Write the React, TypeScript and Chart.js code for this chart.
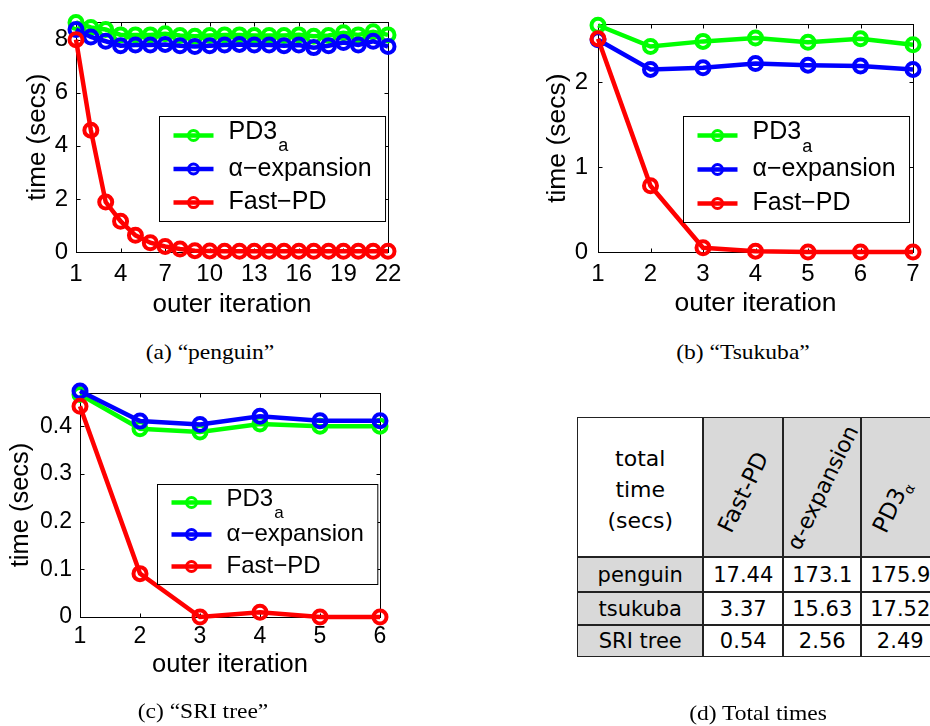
import React, { useEffect, useRef } from "react";
import { Chart, registerables } from "chart.js";

Chart.register(...registerables);

const SANS = '"Liberation Sans", Arial, Helvetica, sans-serif';
const SERIF = '"Liberation Serif", "Times New Roman", serif';
const TABLE_FONT = '"Comic Sans MS", "DejaVu Sans", sans-serif';

// ---- series meta ----
const seriesLabels = ["PD3", "α−expansion", "Fast−PD"];
const seriesSubscripts = ["a", "", ""];
const seriesColors = ["#00ff00", "#0000ff", "#ff0000"];

// ---- (a) penguin ----
const penguinIterations = [1, 2, 3, 4, 5, 6, 7, 8, 9, 10, 11, 12, 13, 14, 15, 16, 17, 18, 19, 20, 21, 22];
const penguinPD3a = [8.65, 8.46, 8.38, 8.18, 8.18, 8.18, 8.22, 8.16, 8.13, 8.16, 8.18, 8.18, 8.16, 8.16, 8.16, 8.18, 8.13, 8.16, 8.26, 8.18, 8.3, 8.18];
const penguinAlphaExpansion = [8.38, 8.1, 7.94, 7.77, 7.8, 7.8, 7.82, 7.77, 7.74, 7.77, 7.8, 7.82, 7.8, 7.8, 7.77, 7.8, 7.7, 7.77, 7.89, 7.8, 7.94, 7.74];
const penguinFastPD = [8.0, 4.59, 1.88, 1.16, 0.63, 0.35, 0.21, 0.11, 0.05, 0.04, 0.03, 0.03, 0.03, 0.03, 0.03, 0.03, 0.03, 0.03, 0.03, 0.03, 0.03, 0.03];
const penguinXTicks = [1, 4, 7, 10, 13, 16, 19, 22];
const penguinYTicks = [0, 2, 4, 6, 8];
const penguinYMax = 8.65;

// ---- (b) Tsukuba ----
const tsukubaIterations = [1, 2, 3, 4, 5, 6, 7];
const tsukubaPD3a = [2.67, 2.42, 2.48, 2.52, 2.47, 2.51, 2.44];
const tsukubaAlphaExpansion = [2.5, 2.15, 2.17, 2.22, 2.2, 2.19, 2.15];
const tsukubaFastPD = [2.51, 0.78, 0.05, 0.01, 0, 0, 0];
const tsukubaXTicks = [1, 2, 3, 4, 5, 6, 7];
const tsukubaYTicks = [0, 1, 2];
const tsukubaYMax = 2.68;

// ---- (c) SRI tree ----
const sriIterations = [1, 2, 3, 4, 5, 6];
const sriPD3a = [0.467, 0.395, 0.388, 0.405, 0.4, 0.4];
const sriAlphaExpansion = [0.474, 0.411, 0.404, 0.421, 0.412, 0.412];
const sriFastPD = [0.442, 0.091, 0, 0.01, 0, 0];
const sriXTicks = [1, 2, 3, 4, 5, 6];
const sriYTicks = [0, 0.1, 0.2, 0.3, 0.4];
const sriYMax = 0.47;

// ---- (d) totals table ----
const tableRowNames = ["penguin", "tsukuba", "SRI tree"];
const totalFastPD = ["17.44", "3.37", "0.54"];
const totalAlphaExpansion = ["173.1", "15.63", "2.56"];
const totalPD3a = ["175.9", "17.52", "2.49"];

const xTitle = "outer iteration";
const yTitle = "time (secs)";

type PanelCfg = {
  iterations: number[];
  series: number[][];
  xTicks: number[];
  yTicks: number[];
  yMax: number;
  canvas: { left: number; top: number; width: number; height: number };
  area: { left: number; top: number; right: number; bottom: number };
  tickSize: number;
  titleSize: number;
  legendSize: number;
  xTickPad: number;
  yTickPad: number;
  xTitlePad: number;
  yTitlePad: number;
  legendRightInset: number;
  legendCenterFrac: number;
  legendHeight: number;
};

const panels: PanelCfg[] = [
  {
    iterations: penguinIterations,
    series: [penguinPD3a, penguinAlphaExpansion, penguinFastPD],
    xTicks: penguinXTicks,
    yTicks: penguinYTicks,
    yMax: penguinYMax,
    canvas: { left: 0, top: 0, width: 420, height: 330 },
    area: { left: 76, top: 17, right: 388, bottom: 252 },
    tickSize: 24,
    titleSize: 26,
    legendSize: 25,
    xTickPad: 8,
    yTickPad: 8,
    xTitlePad: 10,
    yTitlePad: 22,
    legendRightInset: 3,
    legendCenterFrac: 0.636,
    legendHeight: 105,
  },
  {
    iterations: tsukubaIterations,
    series: [tsukubaPD3a, tsukubaAlphaExpansion, tsukubaFastPD],
    xTicks: tsukubaXTicks,
    yTicks: tsukubaYTicks,
    yMax: tsukubaYMax,
    canvas: { left: 520, top: 0, width: 410, height: 330 },
    area: { left: 78, top: 14, right: 393, bottom: 252 },
    tickSize: 24,
    titleSize: 26.5,
    legendSize: 25,
    xTickPad: 8,
    yTickPad: 10,
    xTitlePad: 10,
    yTitlePad: 21.5,
    legendRightInset: 4,
    legendCenterFrac: 0.635,
    legendHeight: 106,
  },
  {
    iterations: sriIterations,
    series: [sriPD3a, sriAlphaExpansion, sriFastPD],
    xTicks: sriXTicks,
    yTicks: sriYTicks,
    yMax: sriYMax,
    canvas: { left: 0, top: 370, width: 420, height: 330 },
    area: { left: 80, top: 23, right: 380, bottom: 247 },
    tickSize: 23,
    titleSize: 25.5,
    legendSize: 24,
    xTickPad: 5.5,
    yTickPad: 8,
    xTitlePad: 19.5,
    yTitlePad: 6,
    legendRightInset: 3,
    legendCenterFrac: 0.631,
    legendHeight: 100,
  },
];

function Panel({ cfg }: { cfg: PanelCfg }) {
  const ref = useRef<HTMLCanvasElement | null>(null);
  useEffect(() => {
    if (!ref.current) return;
    const W = cfg.canvas.width;
    const H = cfg.canvas.height;

    const boxPlugin = {
      id: "matlabBox",
      beforeDatasetsDraw(chart: any) {
        const { ctx, chartArea: a, scales } = chart;
        const xs = scales.x;
        const ys = scales.y;
        ctx.save();
        ctx.strokeStyle = "#000";
        ctx.lineWidth = 1;
        const L = Math.round(a.left) + 0.5;
        const R = Math.round(a.right) + 0.5;
        const T = Math.round(a.top) + 0.5;
        const B = Math.round(a.bottom) + 0.5;
        ctx.strokeRect(L, T, R - L, B - T);
        const tl = 4;
        ctx.beginPath();
        xs.ticks.forEach((t: any) => {
          const px = Math.round(xs.getPixelForValue(t.value)) + 0.5;
          ctx.moveTo(px, B);
          ctx.lineTo(px, B - tl);
          ctx.moveTo(px, T);
          ctx.lineTo(px, T + tl);
        });
        ys.ticks.forEach((t: any) => {
          const py = Math.round(ys.getPixelForValue(t.value)) + 0.5;
          ctx.moveTo(L, py);
          ctx.lineTo(L + tl, py);
          ctx.moveTo(R, py);
          ctx.lineTo(R - tl, py);
        });
        ctx.stroke();
        ctx.restore();
      },
    };

    const legendPlugin = {
      id: "matlabLegend",
      afterDatasetsDraw(chart: any) {
        const { ctx, chartArea: a } = chart;
        const fs = cfg.legendSize;
        const subFs = Math.round(fs * 0.7);
        ctx.save();
        let textW = 0;
        seriesLabels.forEach((lab, i) => {
          ctx.font = `${fs}px ${SANS}`;
          let w = ctx.measureText(lab).width;
          if (seriesSubscripts[i]) {
            ctx.font = `${subFs}px ${SANS}`;
            w += ctx.measureText(seriesSubscripts[i]).width;
          }
          textW = Math.max(textW, w);
        });
        const w = 69 + textW + 14;
        const h = cfg.legendHeight;
        const right = a.right - cfg.legendRightInset;
        const left = Math.round(right - w) + 0.5;
        const cy = a.top + (a.bottom - a.top) * cfg.legendCenterFrac;
        const top = Math.round(cy - h / 2) + 0.5;
        ctx.fillStyle = "#fff";
        ctx.fillRect(left, top, w, h);
        ctx.strokeStyle = "#000";
        ctx.lineWidth = 1;
        ctx.strokeRect(left, top, w, h);
        const fracs = [0.18, 0.5, 0.82];
        seriesLabels.forEach((lab, i) => {
          const ry = top + h * fracs[i];
          ctx.strokeStyle = seriesColors[i];
          ctx.lineWidth = 4.5;
          ctx.beginPath();
          ctx.moveTo(left + 14, ry);
          ctx.lineTo(left + 54, ry);
          ctx.stroke();
          ctx.lineWidth = 3;
          ctx.beginPath();
          ctx.arc(left + 34, ry, 5, 0, Math.PI * 2);
          ctx.stroke();
          ctx.fillStyle = "#000";
          ctx.textBaseline = "middle";
          ctx.textAlign = "left";
          ctx.font = `${fs}px ${SANS}`;
          const sub = seriesSubscripts[i];
          const ty = sub ? ry - 3 : ry;
          ctx.fillText(lab, left + 69, ty);
          if (sub) {
            const lw = ctx.measureText(lab).width;
            ctx.font = `${subFs}px ${SANS}`;
            ctx.fillText(sub, left + 69 + lw + 1, ry + 11);
          }
        });
        ctx.restore();
      },
    };

    const datasets = cfg.series.map((vals, i) => ({
      label: seriesLabels[i],
      data: cfg.iterations.map((it, k) => ({ x: it, y: vals[k] })),
      borderColor: seriesColors[i],
      backgroundColor: seriesColors[i],
      borderWidth: 4.5,
      pointRadius: 6.5,
      pointBorderWidth: 4,
      pointBackgroundColor: "rgba(0,0,0,0)",
      pointBorderColor: seriesColors[i],
      pointStyle: "circle",
      tension: 0,
      clip: false,
      order: 3 - i,
    }));

    const chart = new Chart(ref.current, {
      type: "line",
      data: { datasets: datasets as any },
      options: {
        animation: false,
        responsive: false,
        maintainAspectRatio: false,
        devicePixelRatio: 1,
        events: [],
        layout: {
          padding: {
            left: 0,
            top: cfg.area.top,
            right: W - cfg.area.right,
            bottom: 0,
          },
        },
        plugins: {
          legend: { display: false },
          tooltip: { enabled: false },
        },
        scales: {
          x: {
            type: "linear",
            min: cfg.iterations[0],
            max: cfg.iterations[cfg.iterations.length - 1],
            afterBuildTicks: (s: any) => {
              s.ticks = cfg.xTicks.map((v) => ({ value: v }));
            },
            afterFit: (s: any) => {
              s.height = H - cfg.area.bottom;
            },
            grid: { display: false, drawTicks: false },
            border: { display: false },
            ticks: {
              autoSkip: false,
              maxRotation: 0,
              padding: cfg.xTickPad,
              color: "#000",
              font: { family: SANS, size: cfg.tickSize },
              callback: (v: any) => String(v),
            },
            title: {
              display: true,
              text: xTitle,
              color: "#000",
              font: { family: SANS, size: cfg.titleSize },
              padding: { top: 0, bottom: cfg.xTitlePad },
            },
          },
          y: {
            type: "linear",
            min: 0,
            max: cfg.yMax,
            afterBuildTicks: (s: any) => {
              s.ticks = cfg.yTicks.map((v) => ({ value: v }));
            },
            afterFit: (s: any) => {
              s.width = cfg.area.left;
            },
            grid: { display: false, drawTicks: false },
            border: { display: false },
            ticks: {
              autoSkip: false,
              padding: cfg.yTickPad,
              color: "#000",
              font: { family: SANS, size: cfg.tickSize },
              callback: (v: any) => String(v),
            },
            title: {
              display: true,
              text: yTitle,
              color: "#000",
              font: { family: SANS, size: cfg.titleSize },
              padding: { top: cfg.yTitlePad, bottom: 0 },
            },
          },
        },
      } as any,
      plugins: [boxPlugin, legendPlugin],
    });
    return () => chart.destroy();
  }, [cfg]);

  return (
    <canvas
      ref={ref}
      width={cfg.canvas.width}
      height={cfg.canvas.height}
      style={{
        position: "absolute",
        left: cfg.canvas.left,
        top: cfg.canvas.top,
        width: cfg.canvas.width,
        height: cfg.canvas.height,
      }}
    />
  );
}

function Caption({ text, cx, cy }: { text: string; cx: number; cy: number }) {
  return (
    <div
      style={{
        position: "absolute",
        left: cx - 150,
        top: cy - 13,
        width: 300,
        height: 26,
        lineHeight: "26px",
        textAlign: "center",
        fontFamily: SERIF,
        fontSize: 21,
        color: "#000",
        transform: "scaleX(1.12)",
        whiteSpace: "nowrap",
      }}
    >
      {text}
    </div>
  );
}

const colX = [578, 704, 784, 862, 940];
const rowY = [418, 558, 593, 626, 658];
const GRAY = "#d9d9d9";
const LINE = "#222";

function TotalsTable() {
  const cells: any[] = [];
  const cell = (
    key: string,
    c: number,
    r: number,
    bg: string,
    content: any
  ) => {
    cells.push(
      <div
        key={key}
        style={{
          position: "absolute",
          left: colX[c],
          top: rowY[r],
          width: colX[c + 1] - colX[c],
          height: rowY[r + 1] - rowY[r],
          background: bg,
          boxSizing: "border-box",
          border: `1.5px solid ${LINE}`,
          marginLeft: -0.75,
          marginTop: -0.75,
          display: "flex",
          alignItems: "center",
          justifyContent: "center",
          fontFamily: TABLE_FONT,
          fontSize: 21,
          color: "#000",
          overflow: "visible",
          whiteSpace: "nowrap",
        }}
      >
        {content}
      </div>
    );
  };

  cell(
    "h0",
    0,
    0,
    "#fff",
    <div style={{ textAlign: "center", fontSize: 22, lineHeight: "31px", marginTop: 4 }}>
      total
      <br />
      time
      <br />
      (secs)
    </div>
  );
  const headers = [
    { text: <span>Fast-PD</span>, dx: 0, dy: 5, size: 23 },
    { text: <span>α-expansion</span>, dx: 0, dy: 0, size: 22 },
    {
      text: (
        <span>
          PD3<sub style={{ fontSize: "0.6em" }}>α</sub>
        </span>
      ),
      dx: -8,
      dy: 20,
      size: 23,
    },
  ];
  headers.forEach((h, i) =>
    cell(
      "h" + (i + 1),
      i + 1,
      0,
      GRAY,
      <div
        style={{
          fontSize: h.size,
          transform: `translate(${h.dx}px, ${h.dy}px) rotate(-64deg)`,
          whiteSpace: "nowrap",
        }}
      >
        {h.text}
      </div>
    )
  );
  const cols = [totalFastPD, totalAlphaExpansion, totalPD3a];
  tableRowNames.forEach((name, r) => {
    cell("r" + r, 0, r + 1, GRAY, name);
    cols.forEach((col, c) => cell(`v${r}_${c}`, c + 1, r + 1, "#fff", col[r]));
  });
  return <>{cells}</>;
}

export default function App() {
  return (
    <div
      style={{
        position: "absolute",
        left: 0,
        top: 0,
        width: 930,
        height: 726,
        overflow: "hidden",
        background: "#fff",
      }}
    >
      {panels.map((p, i) => (
        <Panel key={i} cfg={p} />
      ))}
      <TotalsTable />
      <Caption text="(a) “penguin”" cx={210} cy={352} />
      <Caption text="(b) “Tsukuba”" cx={743} cy={352} />
      <Caption text="(c) “SRI tree”" cx={203} cy={711} />
      <Caption text="(d) Total times" cx={758} cy={713} />
    </div>
  );
}
